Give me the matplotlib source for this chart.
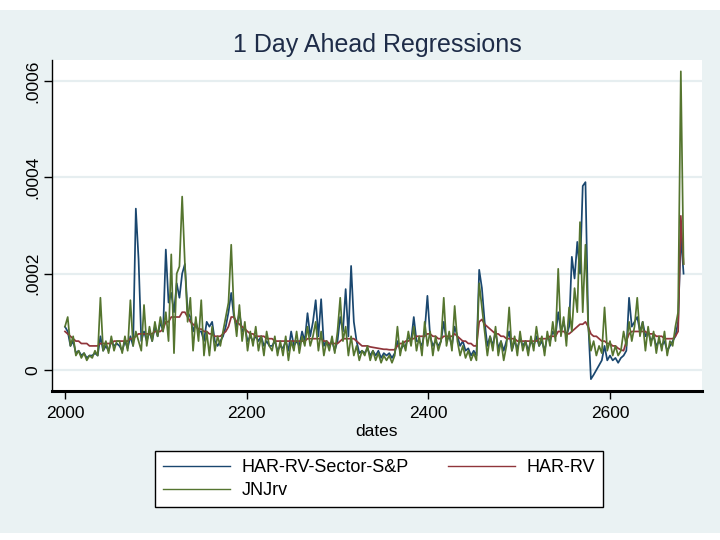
import numpy as np
import matplotlib
matplotlib.use("Agg")
import matplotlib.pyplot as plt
from matplotlib.patches import Rectangle

plt.rcParams['font.family'] = ['Liberation Sans', 'DejaVu Sans']

# dates (every 3rd day)
dates = np.arange(2000, 2682, 3)

# values in units of 1e-5
har_sector = [
    9, 8, 5, 6, 3.5, 4, 3, 3.5, 2.5, 3,
    3, 3.5, 3, 7, 4, 5, 4, 6, 5, 5.5,
    5, 4, 6, 4.5, 7, 5, 33.5, 23, 6, 8,
    6, 8, 6, 9, 7, 10, 8, 25, 14, 16,
    12, 18, 15, 20, 22, 12, 11, 8, 10, 8,
    8, 6, 10, 9, 10, 6, 5, 6, 7, 9,
    12, 16, 11, 9, 12, 8, 9, 6, 7, 6,
    7, 6, 7, 5, 6, 5, 5, 6, 4, 5,
    4.5, 6, 4, 8, 5, 6, 5, 8, 6, 11.8,
    7, 10, 14.5, 7, 14.7, 5, 6, 5, 6, 4,
    6, 11, 8, 16.8, 7, 21.6, 10, 6, 3.5, 4,
    3.5, 4.5, 3, 4, 3, 4, 2.5, 3.5, 3, 3.5,
    2.5, 3.5, 6, 4, 5, 5, 7, 6, 11, 6,
    6, 5, 8, 15.4, 7, 5, 6, 5, 6, 10,
    6, 7, 5, 9, 7, 5, 6, 4, 4.5, 3,
    4, 3, 20.8, 17, 10, 5, 7, 5, 8, 4.5,
    6, 4, 6, 8, 4, 6, 4.5, 6.5, 5, 6,
    4, 6, 5, 7, 5, 6, 4, 7, 6, 8,
    7, 12, 8, 10, 7, 9, 23.5, 19, 26.6, 20,
    38.2, 39, 10, -1.9, -1, 0, 1, 2, 5, 2,
    3, 2, 2.5, 1.5, 2.5, 3, 4, 15, 9, 10,
    11, 8, 10, 7, 8, 6, 7, 5, 6, 5,
    6, 4, 5, 6, 7, 10, 28, 20,
]

har_rv = [
    8, 7.5, 7, 6.5, 6, 6, 5.5, 5.5, 5.5, 5,
    5, 5, 5, 5.5, 5.5, 5.5, 5.5, 5.5, 6, 6,
    6, 6, 6, 6, 6.5, 6.5, 7, 7.5, 7.5, 7.5,
    7.5, 7.5, 7.5, 8, 8, 8, 8.5, 10, 10, 11,
    11, 11, 11, 12, 12, 11, 10, 9.5, 9, 8.5,
    8.5, 8, 8, 7.5, 7.5, 7, 7, 7, 7.5, 8,
    9, 11, 11, 10, 9.5, 9, 8.5, 8, 7.5, 7.5,
    7, 7, 7, 7, 6.5, 6.5, 6.5, 6, 6, 6,
    6, 6, 6, 6, 6, 6, 6, 6, 6, 6.5,
    6.5, 6.5, 6.5, 6.5, 6.5, 6, 6, 5.5, 5.5, 5.5,
    5.5, 6, 6.5, 6.5, 6.5, 6.5, 6.5, 6, 5.5, 5,
    5, 5, 4.8, 4.7, 4.6, 4.5, 4.4, 4.3, 4.3, 4.2,
    4.2, 4.2, 5, 5.5, 5.5, 6, 6, 6.5, 6.5, 7,
    7, 7, 7, 7.5, 7.5, 7, 7, 6.5, 6.5, 7,
    7, 7, 7, 7.5, 7, 6.5, 6, 6, 5.5, 5.5,
    5, 5, 10, 10.5, 9.5, 9, 8.5, 8, 7.5, 7.5,
    7, 7, 6.5, 6.5, 6.5, 6.5, 6, 6, 6, 6,
    6, 6, 6, 6, 6.5, 6.5, 6.5, 6.5, 7, 7,
    7, 8, 8, 8, 7.5, 7.5, 8, 8.5, 9, 9.5,
    9.5, 10, 9, 7.5, 7, 7, 6.5, 6, 6, 5.5,
    5.5, 5, 5, 4.5, 4.2, 4, 6, 7.5, 8, 8,
    8, 8, 8, 8, 7.5, 7.5, 7.5, 7, 7, 7,
    6.5, 6.5, 6.5, 6.5, 7, 8, 32, 22,
]

jnj_rv = [
    9, 11, 5, 7, 3, 4, 2.5, 3.5, 2, 3,
    2.5, 4, 3, 15, 4, 6, 3.5, 7, 4, 6,
    6, 3.5, 7, 4, 14.5, 5, 8, 6, 4, 13.5,
    5, 9, 6, 10, 7, 11, 8, 12, 6, 24,
    3.5, 20, 21.5, 36, 22, 10, 15, 4, 11, 6,
    14.5, 3, 8, 3, 9, 4, 7, 5, 8, 11,
    14, 26, 12, 7, 13.5, 6, 10, 4, 8, 5,
    9, 4, 7, 3, 8, 5, 4, 7, 3, 6,
    3, 7, 2, 6, 4, 8, 3.5, 7, 5, 9,
    5, 7, 10, 4, 8, 3, 6, 4, 7, 3.5,
    8, 15, 6, 9, 3, 7, 3, 5, 2, 4,
    3, 5, 2, 4, 2, 3.5, 1.5, 3, 2, 3,
    1.5, 3, 9, 3, 6, 4, 8, 5, 9, 4,
    7, 3, 10, 5, 8, 3, 7, 4, 6, 15,
    5, 8, 4, 13.3, 6, 3, 5, 2.5, 4, 2,
    3.5, 2, 18, 13, 8, 3, 7, 4, 9, 3,
    6, 2, 5, 13, 4, 7, 3, 8, 4, 6,
    3, 7, 4, 9, 5, 7, 3, 8, 5, 10,
    6, 21, 7, 11, 5, 13, 8, 17, 12, 30.7,
    12, 26, 9, 4, 6, 3, 5, 3.5, 13, 4,
    6, 3, 5, 3, 4, 8, 5, 10, 6, 9,
    15, 7, 10, 4, 9, 5, 8, 3.5, 7, 4,
    8, 3, 6, 5, 9, 12, 62, 22,
]

scale = 1e-5
series = [
    ("HAR-RV-Sector-S&P", har_sector, "#1A476F"),
    ("HAR-RV", har_rv, "#90353B"),
    ("JNJrv", jnj_rv, "#55752F"),
]

xticks = [2000, 2200, 2400, 2600]
yticks = [0, 0.0002, 0.0004, 0.0006]
ytick_labels = ["0", ".0002", ".0004", ".0006"]

W, H = 720, 540
fig = plt.figure(figsize=(W / 100, H / 100), dpi=100)
fig.patch.set_facecolor("white")
fig.add_artist(Rectangle((0, 1 - 533 / H), 1, (533 - 10) / H,
                         transform=fig.transFigure, facecolor="#EAF2F3",
                         edgecolor="none", zorder=0))

ax = fig.add_axes([52 / W, 1 - 391 / H, 650 / W, 331 / H])
ax.set_facecolor("white")
ax.set_zorder(1)

handles = {}
for name, vals, col in series:
    h, = ax.plot(dates, np.array(vals) * scale, color=col, lw=1.25, label=name)
    handles[name] = h

ax.set_xlim(1985.7, 2701.3)
ax.set_ylim(-0.0000436, 0.0006436)
ax.set_xticks(xticks)
ax.set_xticklabels([str(t) for t in xticks])
ax.set_yticks(yticks)
ax.set_yticklabels(ytick_labels, rotation=90, va="center")

for y in yticks:
    ax.axhline(y, color="#E6EEF0", lw=1.6, zorder=0)

for s in ["top", "right"]:
    ax.spines[s].set_visible(False)
ax.spines["left"].set_linewidth(1.0)
ax.spines["bottom"].set_linewidth(2.2)
ax.spines["left"].set_color("black")
ax.spines["bottom"].set_color("black")
ax.tick_params(axis="x", length=5.5, width=1, pad=5, labelsize=12.5, colors="black")
ax.tick_params(axis="y", length=5.5, width=1, pad=3, labelsize=12.5, colors="black")

fig.text(377 / W, 1 - 52 / H, "1 Day Ahead Regressions", ha="center",
         va="baseline", fontsize=18, color="#1E2C48")
fig.text(377 / W, 1 - 436 / H, "dates", ha="center", va="baseline",
         fontsize=12.5, color="black")

order = ["HAR-RV-Sector-S&P", "JNJrv", "HAR-RV"]
leg = fig.legend([handles[n] for n in order], order, ncol=2, mode="expand",
                 bbox_to_anchor=(155 / W, 1 - 508 / H, 448 / W, 58 / H),
                 loc="center", fontsize=13, frameon=True, fancybox=False,
                 edgecolor="black", facecolor="white", framealpha=1,
                 handlelength=3.7, handletextpad=0.65, labelspacing=0.35,
                 borderpad=0.45, borderaxespad=0)
leg.get_frame().set_linewidth(1.0)
for line in leg.get_lines():
    line.set_linewidth(1.0)

fig.savefig("out.png", dpi=100)
